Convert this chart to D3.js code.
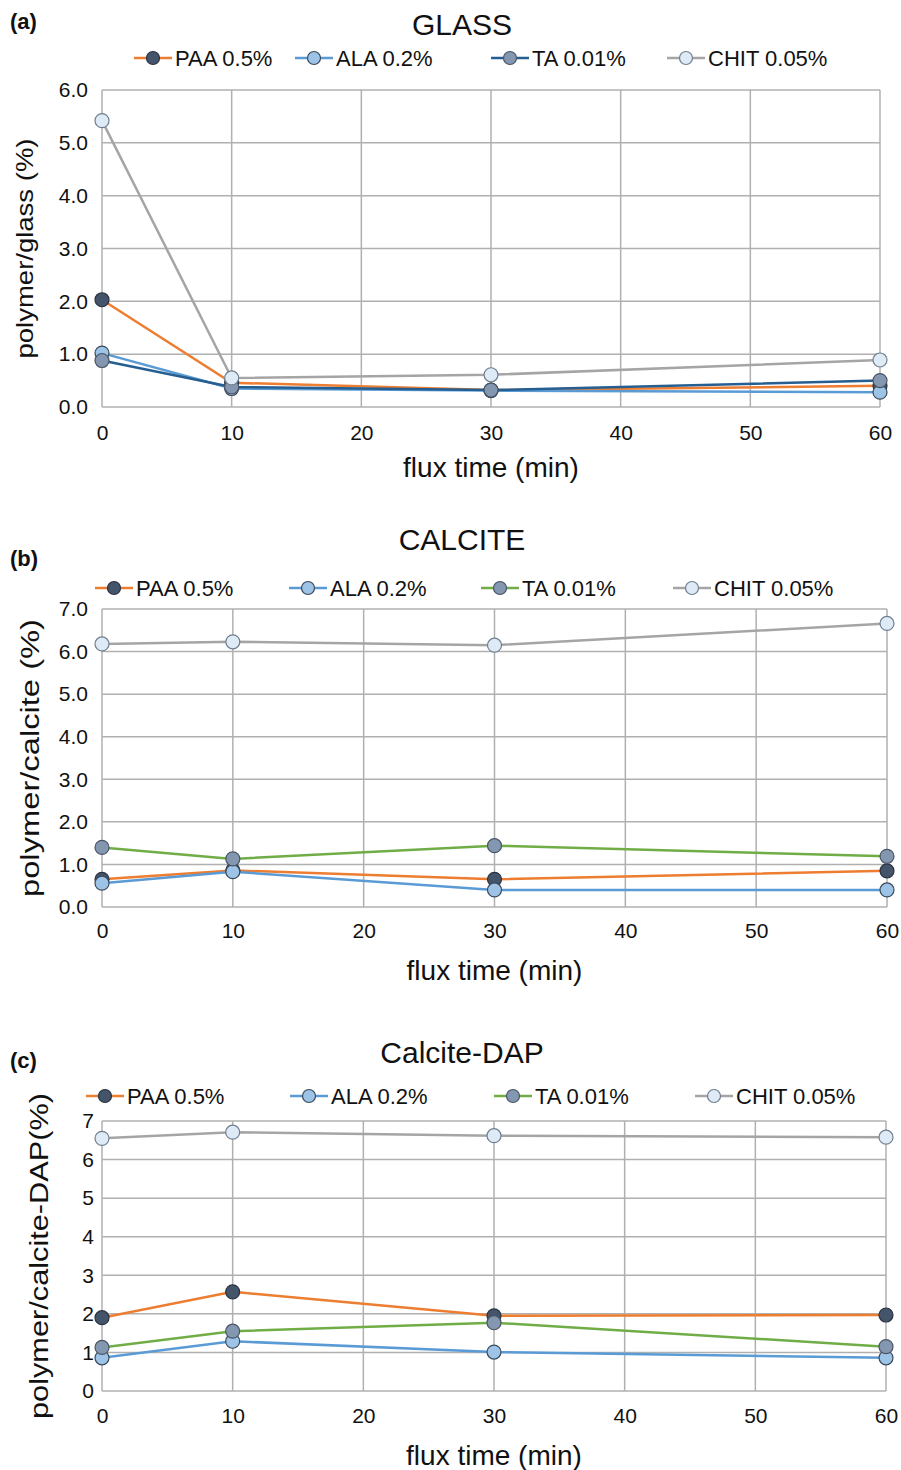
<!DOCTYPE html>
<html lang="en">
<head>
    <meta charset="UTF-8">
    <title>polymer uptake</title>
    <script src="https://cdn.jsdelivr.net/npm/d3@7"></script>
    <style>
        body { margin: 0; background: #fff; }
        text { font-family: "Liberation Sans", Arial, sans-serif; fill: #111; }
    </style>
</head>
<body>
    <svg id="mainsvg" width="901" height="1470"></svg>
    <script>
        // flux time (min)
        const times = [0, 10, 30, 60];
        const xTicks = [0, 10, 20, 30, 40, 50, 60];
        const seriesNames = ["PAA 0.5%", "ALA 0.2%", "TA 0.01%", "CHIT 0.05%"];

        // (a) GLASS
        const glassPAA = [2.03, 0.46, 0.32, 0.40];
        const glassALA = [1.02, 0.35, 0.31, 0.28];
        const glassTA = [0.88, 0.38, 0.32, 0.50];
        const glassCHIT = [5.42, 0.55, 0.61, 0.89];

        // (b) CALCITE
        const calcitePAA = [0.65, 0.86, 0.65, 0.85];
        const calciteALA = [0.56, 0.83, 0.40, 0.40];
        const calciteTA = [1.40, 1.13, 1.44, 1.19];
        const calciteCHIT = [6.18, 6.23, 6.15, 6.66];

        // (c) Calcite-DAP
        const dapPAA = [1.90, 2.57, 1.95, 1.97];
        const dapALA = [0.86, 1.29, 1.01, 0.86];
        const dapTA = [1.13, 1.55, 1.77, 1.15];
        const dapCHIT = [6.55, 6.71, 6.62, 6.58];

        const lineColors = ["#ED7D31", "#5B9BD5", "#70AD47", "#A5A5A5"];
        const markerFills = ["#44546A", "#9DC3E6", "#8497B0", "#DEEBF7"];
        const markerStrokes = ["#2a3340", "#3a4a5c", "#4a5566", "#6f7f8f"];

        const panels = [
            {tag: "(a)", tagY: 29, title: "GLASS", titleY: 35, values: [glassPAA, glassALA, glassTA, glassCHIT],
             taColor: "#255E91", yMax: 6, fmt: d3.format(".1f"),
             left: 102, right: 880, top: 90, bottom: 407,
             legendY: 58, legendX: [134, 295, 491, 667],
             yTitle: "polymer/glass (%)", yTitleX: 33, yTitleSize: 24, yTitleLen: 220, tickRight: 88,
             xTickY: 440, xTitleY: 477},
            {tag: "(b)", tagY: 566, title: "CALCITE", titleY: 550, values: [calcitePAA, calciteALA, calciteTA, calciteCHIT],
             taColor: "#70AD47", yMax: 7, fmt: d3.format(".1f"),
             left: 102, right: 887, top: 609, bottom: 907,
             legendY: 588, legendX: [95, 289, 481, 673],
             yTitle: "polymer/calcite (%)", yTitleX: 39, yTitleSize: 26, yTitleLen: 278, tickRight: 88,
             xTickY: 938, xTitleY: 980},
            {tag: "(c)", tagY: 1068, title: "Calcite-DAP", titleY: 1063, values: [dapPAA, dapALA, dapTA, dapCHIT],
             taColor: "#70AD47", yMax: 7, fmt: d3.format("d"),
             left: 102, right: 886, top: 1121, bottom: 1391,
             legendY: 1096, legendX: [86, 290, 494, 695],
             yTitle: "polymer/calcite-DAP(%)", yTitleX: 48, yTitleSize: 26, yTitleLen: 326, tickRight: 94,
             xTickY: 1423, xTitleY: 1465}
        ];

        const svg = d3.select("#mainsvg");

        function drawPanel(p) {
            const g = svg.append("g").attr("class", "panel");
            const x = d3.scaleLinear().domain([0, 60]).range([p.left, p.right]);
            const y = d3.scaleLinear().domain([0, p.yMax]).range([p.bottom, p.top]);
            const colors = lineColors.slice();
            colors[2] = p.taColor;

            // grid
            g.append("g").selectAll("line.h")
                .data(d3.range(0, p.yMax + 1))
                .join("line")
                .attr("x1", p.left).attr("x2", p.right)
                .attr("y1", d => y(d)).attr("y2", d => y(d))
                .attr("stroke", "#b0b0b0").attr("stroke-width", 1.5);
            g.append("g").selectAll("line.v")
                .data(xTicks)
                .join("line")
                .attr("x1", d => x(d)).attr("x2", d => x(d))
                .attr("y1", p.top).attr("y2", p.bottom)
                .attr("stroke", "#b0b0b0").attr("stroke-width", 1.5);

            // axes labels via d3 axes
            const yAxis = g.append("g")
                .attr("transform", `translate(${p.tickRight + 8},0)`)
                .call(d3.axisLeft(y).tickValues(d3.range(0, p.yMax + 1)).tickFormat(p.fmt).tickSize(0).tickPadding(8));
            yAxis.select(".domain").remove();
            yAxis.selectAll("text").attr("font-size", 21).attr("font-family", "Liberation Sans, Arial, sans-serif").attr("fill", "#111");

            const xAxis = g.append("g")
                .attr("transform", `translate(0,${p.xTickY - 15})`)
                .call(d3.axisBottom(x).tickValues(xTicks).tickFormat(d3.format("d")).tickSize(0).tickPadding(0));
            xAxis.select(".domain").remove();
            xAxis.selectAll("text").attr("font-size", 21).attr("font-family", "Liberation Sans, Arial, sans-serif").attr("fill", "#111").attr("dy", "0.71em");

            // series
            const line = d3.line().x((d, i) => x(times[i])).y(d => y(d));
            p.values.forEach((vals, k) => {
                g.append("path")
                    .attr("d", line(vals))
                    .attr("fill", "none")
                    .attr("stroke", colors[k])
                    .attr("stroke-width", 2.5);
            });
            p.values.forEach((vals, k) => {
                g.append("g").selectAll("circle")
                    .data(vals)
                    .join("circle")
                    .attr("cx", (d, i) => x(times[i]))
                    .attr("cy", d => y(d))
                    .attr("r", 7)
                    .attr("fill", markerFills[k])
                    .attr("stroke", markerStrokes[k])
                    .attr("stroke-width", 1.2);
            });

            // legend
            const leg = g.append("g");
            seriesNames.forEach((name, k) => {
                const lx = p.legendX[k];
                leg.append("line")
                    .attr("x1", lx).attr("x2", lx + 38)
                    .attr("y1", p.legendY).attr("y2", p.legendY)
                    .attr("stroke", colors[k]).attr("stroke-width", 2.5);
                leg.append("circle")
                    .attr("cx", lx + 19).attr("cy", p.legendY).attr("r", 6.5)
                    .attr("fill", markerFills[k]).attr("stroke", markerStrokes[k]).attr("stroke-width", 1.2);
                leg.append("text")
                    .attr("x", lx + 41).attr("y", p.legendY + 8)
                    .attr("font-size", 22)
                    .text(name);
            });

            // titles
            g.append("text")
                .attr("x", 10).attr("y", p.tagY)
                .attr("font-size", 22).attr("font-weight", "bold")
                .text(p.tag);
            g.append("text")
                .attr("x", 462).attr("y", p.titleY)
                .attr("text-anchor", "middle")
                .attr("font-size", 30)
                .text(p.title);
            g.append("text")
                .attr("x", (p.left + p.right) / 2).attr("y", p.xTitleY)
                .attr("text-anchor", "middle")
                .attr("font-size", 28)
                .text("flux time (min)");
            g.append("text")
                .attr("transform", `translate(${p.yTitleX},${(p.top + p.bottom) / 2}) rotate(-90)`)
                .attr("text-anchor", "middle")
                .attr("font-size", p.yTitleSize)
                .attr("textLength", p.yTitleLen)
                .attr("lengthAdjust", "spacingAndGlyphs")
                .text(p.yTitle);
        }

        panels.forEach(drawPanel);
    </script>
</body>
</html>
